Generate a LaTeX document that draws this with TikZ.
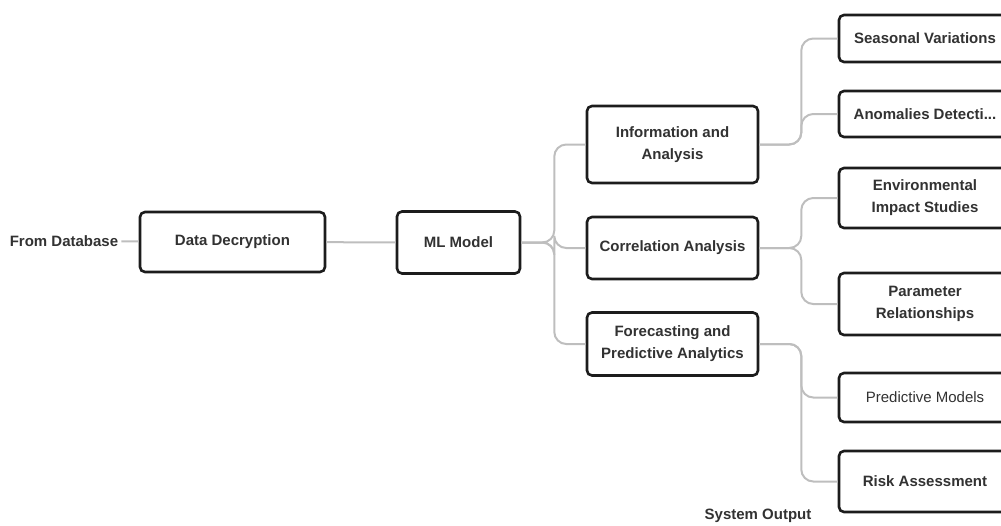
\documentclass[tikz,border=0pt]{standalone}
\usepackage{fontspec}
\setmainfont{Liberation Sans}
\definecolor{boxline}{RGB}{28,28,28}
\definecolor{txtcol}{RGB}{50,50,50}
\definecolor{linkcol}{RGB}{190,190,190}

\begin{document}
\begin{tikzpicture}[x=1pt,y=-1pt,
  box/.style={draw=boxline,line width=2.6pt,rounded corners=5pt,fill=white,
    text=txtcol,font=\fontsize{15}{22}\selectfont\bfseries,align=center,
    inner sep=2pt},
  link/.style={draw=linkcol,line width=2pt,rounded corners=12pt}]
\useasboundingbox (0,0) rectangle (1001,525);

% input side
\node[text=txtcol,font=\fontsize{15}{22}\selectfont\bfseries,inner sep=3pt] (db) at (64,241) {From Database};
\node[box,minimum width=185pt,minimum height=60pt] (dd) at (232.5,242) {Data Decryption};
\node[box,minimum width=123pt,minimum height=62pt] (ml) at (458.5,242.5) {ML Model};

% analysis column
\node[box,minimum width=171pt,minimum height=77pt] (info) at (672.5,144.5) {Information and\\Analysis};
\node[box,minimum width=171pt,minimum height=62pt] (corr) at (672.5,248) {Correlation Analysis};
\node[box,minimum width=171pt,minimum height=63pt] (fore) at (672.5,344) {Forecasting and\\Predictive Analytics};

% output column (runs past the right border)
\node[box,minimum width=172pt,minimum height=47pt] (seas) at (925,38.5) {Seasonal Variations};
\node[box,minimum width=172pt,minimum height=46pt] (anom) at (925,114) {Anomalies Detecti...};
\node[box,minimum width=172pt,minimum height=60pt] (env) at (925,198) {Environmental\\Impact Studies};
\node[box,minimum width=172pt,minimum height=62pt] (param) at (925,304) {Parameter\\Relationships};
\node[box,minimum width=172pt,minimum height=49pt,font=\fontsize{15}{22}\selectfont] (pred) at (925,397.5) {Predictive Models};
\node[box,minimum width=172pt,minimum height=61pt] (risk) at (925,481.5) {Risk Assessment};

\node[text=txtcol,font=\fontsize{15}{22}\selectfont\bfseries] (out) at (758,516) {System Output};

% links
\draw[link] (db) -- (dd);
\draw[link] (dd) -- (ml);
\draw[link] (ml.east) -- ++(33,0) |- (info.west);
\draw[link] (ml.east) -- ++(33,0) |- (corr.west);
\draw[link] (ml.east) -- ++(33,0) |- (fore.west);
\draw[link] (info.east) -- ++(42,0) |- (seas.west);
\draw[link] (info.east) -- ++(42,0) |- (anom.west);
\draw[link] (corr.east) -- ++(42,0) |- (env.west);
\draw[link] (corr.east) -- ++(42,0) |- (param.west);
\draw[link] (fore.east) -- ++(42,0) |- (pred.west);
\draw[link] (fore.east) -- ++(42,0) |- (risk.west);

\end{tikzpicture}
\end{document}
